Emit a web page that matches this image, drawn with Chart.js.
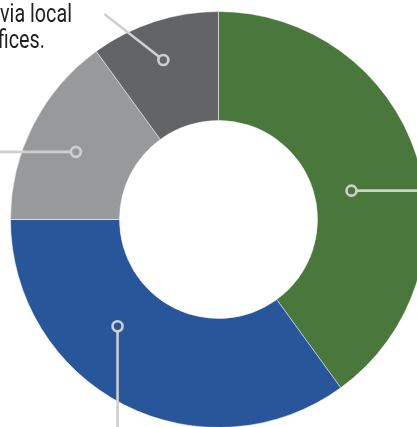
<!DOCTYPE html>
<html>
<head>
<meta charset="utf-8">
<script src="https://cdn.jsdelivr.net/npm/chart.js@4"></script>
<style>
  html, body { margin: 0; padding: 0; background: #fff; overflow: hidden; }
  #wrap { position: relative; width: 417px; height: 427px; overflow: hidden; }
  #myChart { position: absolute; left: 0; top: 0; }
  .note {
    position: absolute; left: 0; top: 0;
    font-family: "Roboto", "DejaVu Sans Condensed", sans-serif;
    font-size: 26px; line-height: 26px; color: #231f20;
    white-space: nowrap;
    transform: scaleX(0.76); transform-origin: 0 0;
  }
  .note span { display: block; }
</style>
</head>
<body>
<div id="wrap">
  <canvas id="myChart" width="437" height="439"></canvas>
  <div class="note"><span>via local</span><span style="margin-left:-3px;">fices.</span></div>
</div>
<script>
// donut slices, clockwise from 12 o'clock
const labels = ["A", "B", "C", "D"];
const values = [40, 35, 15, 10];
const colors = ["#4a773c", "#28569a", "#98999b", "#636466"];

// where the callout ring sits inside each slice (fraction of slice angle, fraction of ring depth)
// and which way its leader line runs
const callouts = [
	{ at: 0.54, depth: 0.34, dx: 120, dy: 0 },
	{ at: 0.63, depth: 0.44, dx: 0, dy: 140 },
	{ at: 0.47, depth: 0.54, dx: -120, dy: 0 },
	{ at: 0.47, depth: 0.64, dx: -59, dy: -46 }
];

const calloutPlugin = {
	id: 'callouts',
	afterDatasetsDraw(chart) {
		const ctx = chart.ctx;
		const meta = chart.getDatasetMeta(0);
		meta.data.forEach((arc, i) => {
			const c = callouts[i];
			if (!c) return;
			const p = arc.getProps(['x', 'y', 'startAngle', 'endAngle', 'innerRadius', 'outerRadius'], true);
			const a = p.startAngle + (p.endAngle - p.startAngle) * c.at;
			const r = p.innerRadius + (p.outerRadius - p.innerRadius) * c.depth;
			const cx = p.x + Math.cos(a) * r;
			const cy = p.y + Math.sin(a) * r;
			const len = Math.hypot(c.dx, c.dy);
			const ux = c.dx / len, uy = c.dy / len;
			const ringR = 5;
			ctx.save();
			ctx.strokeStyle = "#cfcfcf";
			ctx.lineWidth = 2.6;
			ctx.beginPath();
			ctx.moveTo(cx + ux * ringR, cy + uy * ringR);
			ctx.lineTo(cx + c.dx, cy + c.dy);
			ctx.stroke();
			ctx.beginPath();
			ctx.arc(cx, cy, ringR, 0, Math.PI * 2);
			ctx.stroke();
			ctx.restore();
		});
	}
};

const ctx = document.getElementById('myChart').getContext('2d');
const myChart = new Chart(ctx, {
	type: 'doughnut',
	data: {
		labels: labels,
		datasets: [{
			data: values,
			backgroundColor: colors,
			borderColor: "rgba(255,255,255,0.6)",
			borderWidth: 0.8
		}]
	},
	options: {
		responsive: false,
		animation: false,
		radius: 208,
		cutout: '47.6%',
		layout: { padding: 0 },
		plugins: {
			legend: { display: false },
			tooltip: { enabled: false }
		}
	},
	plugins: [calloutPlugin]
});
</script>
</body>
</html>
